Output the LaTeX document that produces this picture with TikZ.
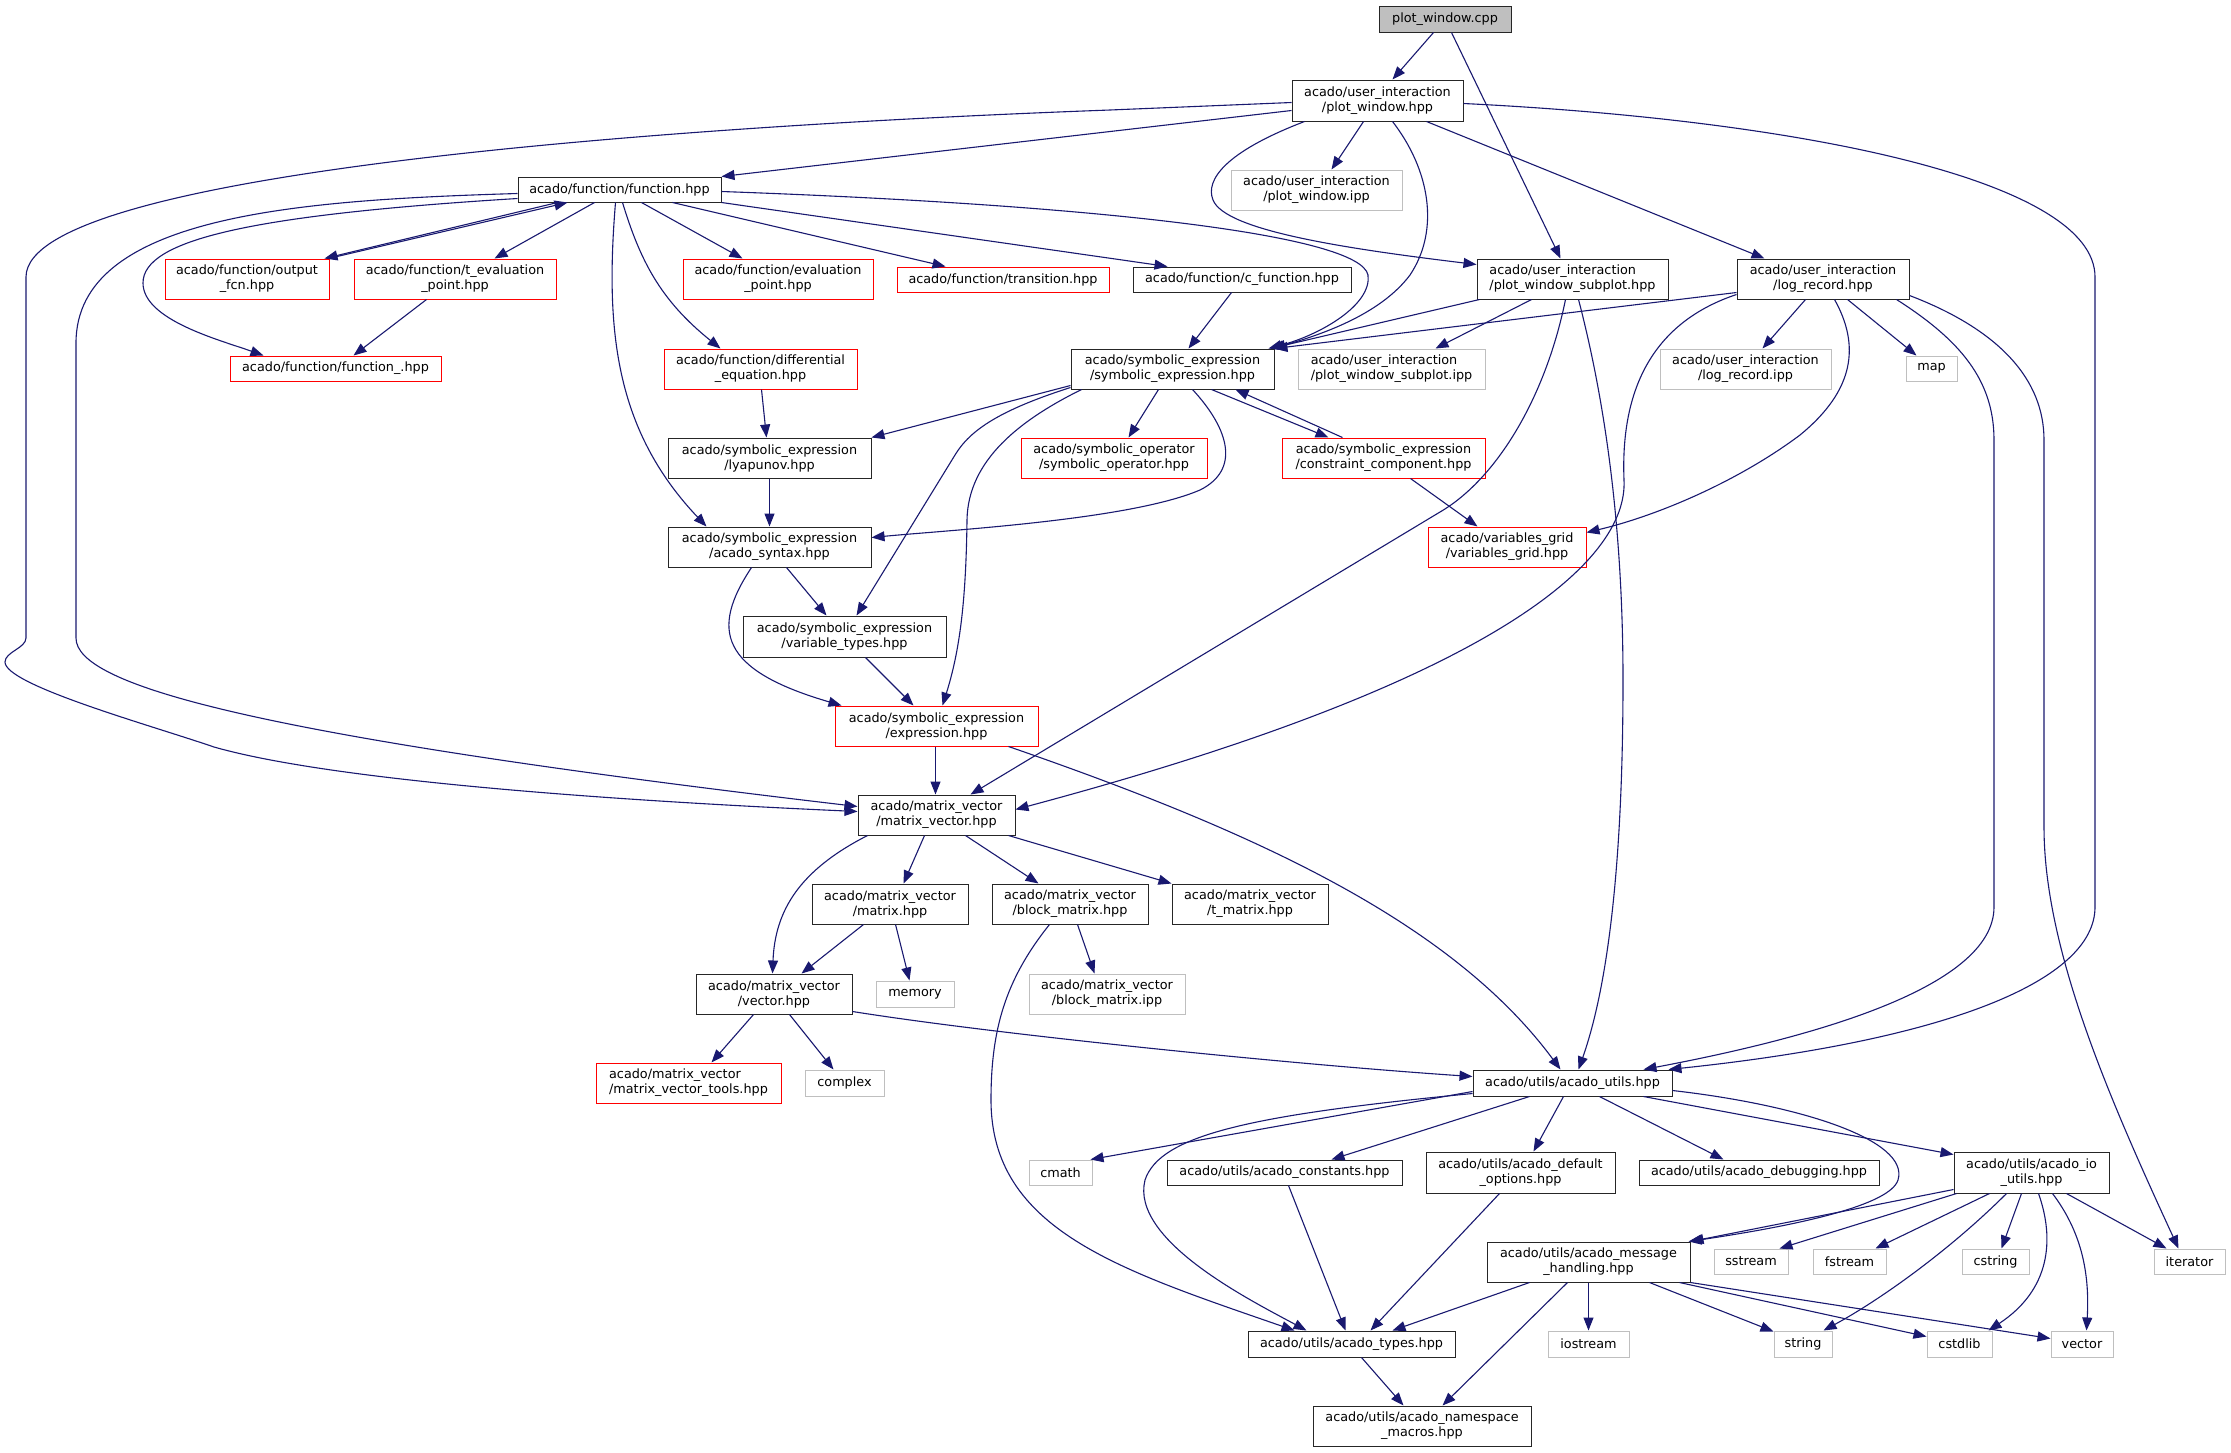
\documentclass[tikz,border=0pt]{standalone}
\usepackage{fontspec}
\setmainfont{DejaVu Sans}
\usetikzlibrary{arrows.meta}
\definecolor{edgec}{HTML}{191970}
\definecolor{extc}{HTML}{BFBFBF}
\newcommand\mynode[7]{\node[#1, minimum width={#4-#3}, minimum height={#6-#5}] (#2) at ({(#3+#4)/2},{(#5+#6)/2}) {#7};}
\tikzset{
  base/.style={rectangle, inner sep=0pt, line width=1pt, align=center, text=black,
    font=\fontsize{12.8pt}{15pt}\selectfont},
  doc/.style={base, draw=black!85},
  redn/.style={base, draw=red},
  extn/.style={base, draw=extc},
  rootn/.style={base, draw=black!85, fill=extc},
  dep/.style={draw=edgec, line width=1.1pt, -{Triangle[length=13pt,width=10pt]}},
}
\begin{document}
\begin{tikzpicture}[x=1pt,y=-1pt]
\useasboundingbox[fill=white] (0,0) rectangle (2231,1452);
% nodes
\mynode{rootn}{ncpp}{1379}{1511}{6}{32}{plot\_window.cpp}
\mynode{doc}{nwin}{1292}{1463}{80}{121}{acado/user\_interaction\\/plot\_window.hpp}
\mynode{doc}{nfn}{518}{721}{177}{202}{acado/function/function.hpp}
\mynode{extn}{nwipp}{1231}{1402}{170}{210}{acado/user\_interaction\\/plot\_window.ipp}
\mynode{redn}{nout}{165}{329}{259}{299}{acado/function/output\\\_fcn.hpp}
\mynode{redn}{nteval}{354}{556}{259}{299}{acado/function/t\_evaluation\\\_point.hpp}
\mynode{redn}{neval}{683}{873}{259}{299}{acado/function/evaluation\\\_point.hpp}
\mynode{redn}{ntrans}{897}{1109}{267}{292}{acado/function/transition.hpp}
\mynode{doc}{ncfn}{1133}{1351}{267}{292}{acado/function/c\_function.hpp}
\mynode{doc,align=left}{nsub}{1477}{1668}{259}{299}{acado/user\_interaction\\/plot\_window\_subplot.hpp}
\mynode{doc}{nlr}{1737}{1909}{259}{299}{acado/user\_interaction\\/log\_record.hpp}
\mynode{redn}{nfnu}{230}{441}{356}{381}{acado/function/function\_.hpp}
\mynode{redn}{nde}{664}{857}{349}{389}{acado/function/differential\\\_equation.hpp}
\mynode{doc}{nse}{1071}{1274}{349}{389}{acado/symbolic\_expression\\/symbolic\_expression.hpp}
\mynode{extn,align=left}{nsubipp}{1298}{1485}{349}{389}{acado/user\_interaction\\/plot\_window\_subplot.ipp}
\mynode{extn}{nlripp}{1660}{1831}{349}{389}{acado/user\_interaction\\/log\_record.ipp}
\mynode{extn}{nmap}{1906}{1957}{356}{381}{map}
\mynode{doc}{nlyap}{668}{871}{438}{478}{acado/symbolic\_expression\\/lyapunov.hpp}
\mynode{redn}{nsymop}{1021}{1207}{438}{478}{acado/symbolic\_operator\\/symbolic\_operator.hpp}
\mynode{redn}{ncc}{1282}{1485}{438}{478}{acado/symbolic\_expression\\/constraint\_component.hpp}
\mynode{doc}{nsyn}{668}{871}{527}{567}{acado/symbolic\_expression\\/acado\_syntax.hpp}
\mynode{redn}{nvg}{1428}{1586}{527}{567}{acado/variables\_grid\\/variables\_grid.hpp}
\mynode{doc}{nvt}{743}{946}{616}{657}{acado/symbolic\_expression\\/variable\_types.hpp}
\mynode{redn}{nexpr}{835}{1038}{706}{746}{acado/symbolic\_expression\\/expression.hpp}
\mynode{doc}{nmv}{858}{1015}{795}{835}{acado/matrix\_vector\\/matrix\_vector.hpp}
\mynode{doc}{nmat}{812}{968}{884}{924}{acado/matrix\_vector\\/matrix.hpp}
\mynode{doc}{nbm}{992}{1148}{884}{924}{acado/matrix\_vector\\/block\_matrix.hpp}
\mynode{doc}{ntm}{1172}{1328}{884}{924}{acado/matrix\_vector\\/t\_matrix.hpp}
\mynode{doc}{nvec}{696}{852}{974}{1014}{acado/matrix\_vector\\/vector.hpp}
\mynode{extn}{nmem}{876}{954}{981}{1007}{memory}
\mynode{extn}{nbmipp}{1029}{1185}{974}{1014}{acado/matrix\_vector\\/block\_matrix.ipp}
\mynode{redn,align=left}{nmvt}{596}{781}{1063}{1103}{acado/matrix\_vector\\/matrix\_vector\_tools.hpp}
\mynode{extn}{ncplx}{805}{884}{1070}{1096}{complex}
\mynode{doc}{nau}{1473}{1672}{1070}{1096}{acado/utils/acado\_utils.hpp}
\mynode{extn}{ncmath}{1029}{1092}{1160}{1185}{cmath}
\mynode{doc}{nconst}{1167}{1402}{1160}{1185}{acado/utils/acado\_constants.hpp}
\mynode{doc}{ndef}{1426}{1615}{1152}{1193}{acado/utils/acado\_default\\\_options.hpp}
\mynode{doc}{ndbg}{1639}{1879}{1160}{1185}{acado/utils/acado\_debugging.hpp}
\mynode{doc}{nio}{1954}{2109}{1152}{1193}{acado/utils/acado\_io\\\_utils.hpp}
\mynode{doc}{nmh}{1487}{1690}{1242}{1282}{acado/utils/acado\_message\\\_handling.hpp}
\mynode{extn}{nsst}{1714}{1788}{1249}{1274}{sstream}
\mynode{extn}{nfst}{1813}{1886}{1249}{1274}{fstream}
\mynode{extn}{ncstr}{1962}{2029}{1249}{1274}{cstring}
\mynode{extn}{niter}{2154}{2225}{1249}{1274}{iterator}
\mynode{doc}{ntypes}{1248}{1455}{1331}{1357}{acado/utils/acado\_types.hpp}
\mynode{extn}{nios}{1548}{1629}{1331}{1357}{iostream}
\mynode{extn}{nstr}{1774}{1832}{1331}{1357}{string}
\mynode{extn}{ncstd}{1927}{1992}{1331}{1357}{cstdlib}
\mynode{extn}{nvecs}{2051}{2113}{1331}{1357}{vector}
\mynode{doc}{nnsm}{1313}{1531}{1406}{1446}{acado/utils/acado\_namespace\\\_macros.hpp}
% edges
\draw[dep] ([xshift=55pt]ncpp.south west) -- ([xshift=101pt]nwin.north west);
\draw[dep] ([xshift=73pt]ncpp.south west) -- ([xshift=84pt]nsub.north west);
\draw[dep] ([yshift=-31pt]nwin.north west) -- (nfn.north east);
\draw[dep] ([yshift=-23pt]nwin.north west) -- (1110,110) .. controls (700,125) and (26,170) .. (26,277) -- (26,638) .. controls (26,648) and (5,652) .. (5,662) .. controls (5,685) and (150,725) .. (214,747) .. controls (330,780) and (600,800) .. ([yshift=-17pt]nmv.north west);
\draw[dep] ([yshift=-17pt]nfn.north west) .. controls (300,200) and (76,215) .. (76,343) -- (76,638) .. controls (76,685) and (250,735) .. ([yshift=-12pt]nmv.north west);
\draw[dep] ([yshift=-22pt]nfn.north west) .. controls (250,215) and (143,240) .. (143,283) .. controls (143,320) and (220,340) .. ([xshift=34pt]nfnu.north west);
\draw[dep] ([xshift=40pt]nfn.south west) -- ([xshift=-5pt]nout.north east);
\draw[dep] ([xshift=-1pt]nout.north east) -- ([xshift=50pt]nfn.south west);
\draw[dep] ([xshift=77pt]nfn.south west) -- ([xshift=141pt]nteval.north west);
\draw[dep] ([xshift=124pt]nfn.south west) -- ([xshift=60pt]neval.north west);
\draw[dep] ([xshift=155pt]nfn.south west) -- ([xshift=49pt]ntrans.north west);
\draw[dep] (nfn.south east) -- ([xshift=35pt]ncfn.north west);
\draw[dep] ([yshift=-15pt]nfn.north east) .. controls (1100,205) and (1360,235) .. (1368,275) .. controls (1372,305) and (1320,335) .. ([xshift=-6pt]nse.north east);
\draw[dep] ([xshift=105pt]nfn.south west) .. controls (640,260) and (660,300) .. ([xshift=57pt]nde.north west);
\draw[dep] ([xshift=98pt]nfn.south west) .. controls (605,330) and (615,430) .. ([xshift=39pt]nsyn.north west);
\draw[dep] ([xshift=72pt]nwin.south west) -- ([xshift=101pt]nwipp.north west);
\draw[dep] ([xshift=13pt]nwin.south west) .. controls (1225,152) and (1205,180) .. (1213,200) .. controls (1225,230) and (1340,248) .. ([yshift=-6pt]nsub.north west);
\draw[dep] ([xshift=101pt]nwin.south west) .. controls (1430,170) and (1440,230) .. (1410,275) .. controls (1380,315) and (1320,335) .. ([xshift=-2pt]nse.north east);
\draw[dep] ([xshift=135pt]nwin.south west) -- ([xshift=28pt]nlr.north west);
\draw[dep] ([yshift=-24pt]nwin.north east) .. controls (1800,120) and (2095,180) .. (2095,277) -- (2095,907) .. controls (2095,980) and (1950,1040) .. ([xshift=-4pt]nau.north east);
\draw[dep] ([xshift=99pt]ncfn.south west) -- ([xshift=118pt]nse.north west);
\draw[dep] ([xshift=3pt]nsub.south west) -- ([xshift=-4pt]nse.north east);
\draw[dep] ([yshift=-34pt]nlr.north west) -- (nse.north east);
\draw[dep] ([xshift=55pt]nsub.south west) -- ([xshift=138pt]nsubipp.north west);
\draw[dep] ([xshift=89pt]nsub.south west) .. controls (1545,400) and (1495,480) .. (1440,512) -- ([xshift=113pt]nmv.north west);
\draw[dep] ([xshift=102pt]nsub.south west) .. controls (1610,420) and (1623,550) .. (1623,680) .. controls (1623,850) and (1610,980) .. ([xshift=106pt]nau.north west);
\draw[dep] ([xshift=69pt]nlr.south west) -- ([xshift=103pt]nlripp.north west);
\draw[dep] ([xshift=111pt]nlr.south west) -- ([xshift=11pt]nmap.north west);
\draw[dep] ([xshift=98pt]nlr.south west) .. controls (1860,345) and (1855,390) .. (1800,435) .. controls (1740,480) and (1660,515) .. ([yshift=-6pt]nvg.north east);
\draw[dep] ([yshift=-36pt]nlr.north west) .. controls (1660,320) and (1620,380) .. (1624,480) .. controls (1628,560) and (1500,680) .. ([yshift=-15pt]nmv.north east);
\draw[dep] ([xshift=160pt]nlr.south west) .. controls (1960,340) and (1994,380) .. (1994,440) -- (1994,907) .. controls (1994,990) and (1800,1040) .. ([xshift=-29pt]nau.north east);
\draw[dep] ([yshift=-37pt]nlr.north east) .. controls (2000,330) and (2044,380) .. (2044,440) -- (2044,827) .. controls (2044,950) and (2110,1100) .. ([xshift=25pt]niter.north west);
\draw[dep] ([yshift=-37pt]nse.north west) -- (nlyap.north east);
\draw[dep] ([yshift=-39pt]nse.north west) .. controls (1000,410) and (970,430) .. (955,455) -- ([xshift=114pt]nvt.north west);
\draw[dep] ([xshift=11pt]nse.south west) .. controls (1020,420) and (968,460) .. (967,520) .. controls (966,600) and (960,650) .. ([xshift=108pt]nexpr.north west);
\draw[dep] ([xshift=88pt]nse.south west) -- ([xshift=108pt]nsymop.north west);
\draw[dep] ([xshift=122pt]nse.south west) .. controls (1230,430) and (1240,470) .. (1200,490) .. controls (1130,520) and (950,530) .. ([yshift=-11pt]nsyn.north east);
\draw[dep] ([xshift=141pt]nse.south west) -- ([xshift=47pt]ncc.north west);
\draw[dep] ([xshift=61pt]ncc.north west) -- ([xshift=165pt]nse.south west);
\draw[dep] ([xshift=129pt]ncc.south west) -- ([xshift=50pt]nvg.north west);
\draw[dep] ([xshift=98pt]nde.south west) -- ([xshift=99pt]nlyap.north west);
\draw[dep] ([xshift=102pt]nlyap.south west) -- ([xshift=102pt]nsyn.north west);
\draw[dep] ([xshift=119pt]nsyn.south west) -- ([xshift=84pt]nvt.north west);
\draw[dep] ([xshift=84pt]nsyn.south west) .. controls (710,630) and (720,670) .. ([xshift=7pt]nexpr.north west);
\draw[dep] ([xshift=123pt]nvt.south west) -- ([xshift=79pt]nexpr.north west);
\draw[dep] ([xshift=101pt]nexpr.south west) -- ([xshift=78pt]nmv.north west);
\draw[dep] ([xshift=174pt]nexpr.south west) .. controls (1250,830) and (1450,920) .. ([xshift=88pt]nau.north west);
\draw[dep] ([xshift=73pt]nteval.south west) -- ([xshift=124pt]nfnu.north west);
\draw[dep] ([xshift=10pt]nmv.south west) .. controls (800,870) and (775,910) .. ([xshift=77pt]nvec.north west);
\draw[dep] ([xshift=67pt]nmv.south west) -- ([xshift=92pt]nmat.north west);
\draw[dep] ([xshift=108pt]nmv.south west) -- ([xshift=47pt]nbm.north west);
\draw[dep] ([xshift=151pt]nmv.south west) -- (ntm.north west);
\draw[dep] ([xshift=52pt]nmat.south west) -- ([xshift=106pt]nvec.north west);
\draw[dep] ([xshift=84pt]nmat.south west) -- ([xshift=34pt]nmem.north west);
\draw[dep] ([xshift=86pt]nbm.south west) -- ([xshift=66pt]nbmipp.north west);
\draw[dep] ([xshift=58pt]nbm.south west) .. controls (1005,980) and (991,1030) .. (991,1100) .. controls (991,1230) and (1120,1270) .. ([xshift=47pt]ntypes.north west);
\draw[dep] ([xshift=58pt]nvec.south west) -- ([xshift=116pt]nmvt.north west);
\draw[dep] ([xshift=94pt]nvec.south west) -- ([xshift=29pt]ncplx.north west);
\draw[dep] ([yshift=-38pt]nvec.north east) .. controls (1000,1035) and (1300,1065) .. ([yshift=-7pt]nau.north west);
\draw[dep] ([yshift=-22pt]nau.north west) -- ([xshift=-2pt]ncmath.north east);
\draw[dep] ([yshift=-24pt]nau.north west) .. controls (1250,1115) and (1160,1135) .. (1145,1180) .. controls (1130,1240) and (1250,1300) .. ([xshift=59pt]ntypes.north west);
\draw[dep] ([xshift=57pt]nau.south west) -- ([xshift=165pt]nconst.north west);
\draw[dep] ([xshift=91pt]nau.south west) -- ([xshift=108pt]ndef.north west);
\draw[dep] ([xshift=127pt]nau.south west) -- ([xshift=85pt]ndbg.north west);
\draw[dep] ([xshift=-29pt]nau.south east) -- ([yshift=-3pt]nio.north west);
\draw[dep] ([yshift=-21pt]nau.north east) .. controls (1800,1105) and (1910,1140) .. (1898,1180) .. controls (1890,1205) and (1800,1225) .. ([xshift=-2pt]nmh.north east);
\draw[dep] ([yshift=-38pt]nio.north west) -- (nmh.north east);
\draw[dep] ([xshift=3pt]nio.south west) -- ([xshift=66pt]nsst.north west);
\draw[dep] ([xshift=36pt]nio.south west) -- ([xshift=63pt]nfst.north west);
\draw[dep] ([xshift=53pt]nio.south west) .. controls (1950,1250) and (1880,1300) .. ([xshift=50pt]nstr.north west);
\draw[dep] ([xshift=68pt]nio.south west) -- ([xshift=40pt]ncstr.north west);
\draw[dep] ([xshift=85pt]nio.south west) .. controls (2055,1240) and (2050,1290) .. ([xshift=-4pt]ncstd.north east);
\draw[dep] ([xshift=99pt]nio.south west) .. controls (2080,1230) and (2090,1270) .. ([xshift=36pt]nvecs.north west);
\draw[dep] ([xshift=113pt]nio.south west) -- ([xshift=13pt]niter.north west);
\draw[dep] ([xshift=43pt]nmh.south west) -- ([xshift=145pt]ntypes.north west);
\draw[dep] ([xshift=81pt]nmh.south west) -- ([xshift=130pt]nnsm.north west);
\draw[dep] ([xshift=102pt]nmh.south west) -- ([xshift=41pt]nios.north west);
\draw[dep] ([xshift=163pt]nmh.south west) -- ([yshift=-1pt]nstr.north west);
\draw[dep] ([xshift=193pt]nmh.south west) -- ([yshift=-6pt]ncstd.north west);
\draw[dep] (nmh.south east) -- ([yshift=-8pt]nvecs.north west);
\draw[dep] ([xshift=114pt]ntypes.south west) -- ([xshift=91pt]nnsm.north west);
\draw[dep] ([xshift=122pt]nconst.south west) -- ([xshift=98pt]ntypes.north west);
\draw[dep] ([xshift=74pt]ndef.south west) -- ([xshift=123pt]ntypes.north west);
\end{tikzpicture}
\end{document}
